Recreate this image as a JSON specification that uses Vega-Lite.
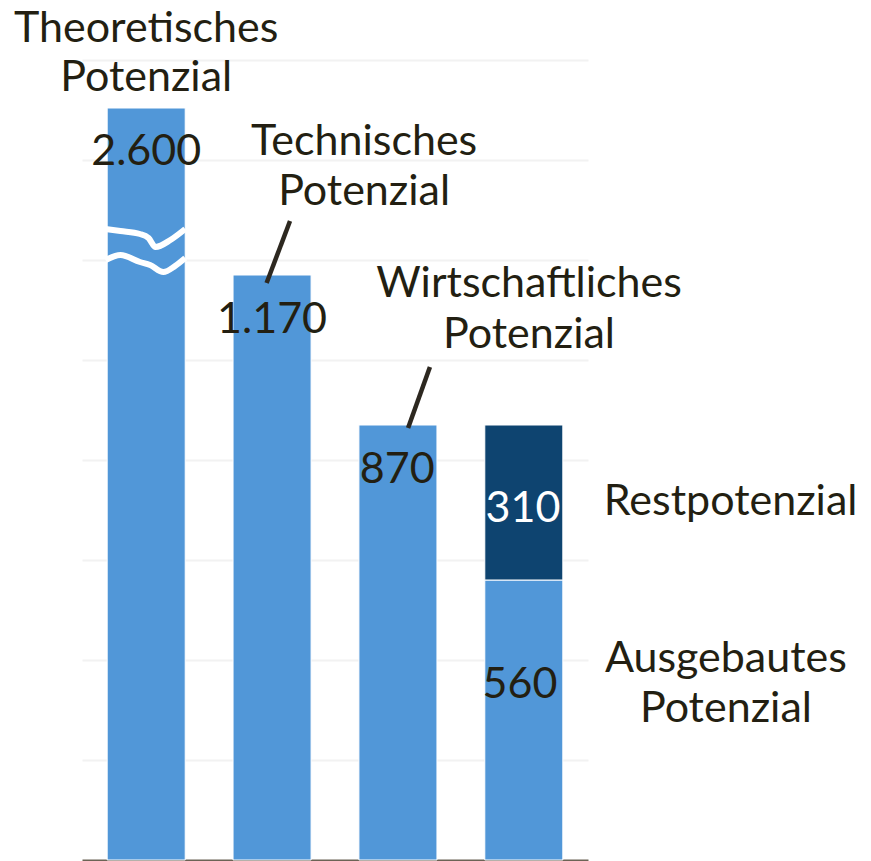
{
  "$schema": "https://vega.github.io/schema/vega-lite/v6.json",
  "width": 506,
  "height": 860,
  "autosize": {"type": "none"},
  "padding": {"left": 82, "top": 0, "right": 283, "bottom": 1},
  "background": "white",
  "config": {"view": {"stroke": null}, "font": "Lato"},
  "datasets": {
    "bars": [
      {"cat": "Theoretisches Potenzial", "part": "Potenzial", "value": 2600, "shown": 1504, "ord": 1},
      {"cat": "Technisches Potenzial", "part": "Potenzial", "value": 1170, "shown": 1170, "ord": 1},
      {"cat": "Wirtschaftliches Potenzial", "part": "Potenzial", "value": 870, "shown": 870, "ord": 1},
      {"cat": "Wirtschaftliches Potenzial (Aufteilung)", "part": "Ausgebautes Potenzial", "value": 560, "shown": 560, "ord": 1},
      {"cat": "Wirtschaftliches Potenzial (Aufteilung)", "part": "Restpotenzial", "value": 310, "shown": 310, "ord": 2}
    ],
    "breaks": [
      {"id": "b1", "cat": "Theoretisches Potenzial", "pos": -0.02, "y": 1262},
      {"id": "b1", "cat": "Theoretisches Potenzial", "pos": 0.17, "y": 1258},
      {"id": "b1", "cat": "Theoretisches Potenzial", "pos": 0.42, "y": 1252},
      {"id": "b1", "cat": "Theoretisches Potenzial", "pos": 0.53, "y": 1244},
      {"id": "b1", "cat": "Theoretisches Potenzial", "pos": 0.62, "y": 1226},
      {"id": "b1", "cat": "Theoretisches Potenzial", "pos": 0.81, "y": 1240},
      {"id": "b1", "cat": "Theoretisches Potenzial", "pos": 1.0, "y": 1262},
      {"id": "b2", "cat": "Theoretisches Potenzial", "pos": -0.02, "y": 1200},
      {"id": "b2", "cat": "Theoretisches Potenzial", "pos": 0.17, "y": 1210},
      {"id": "b2", "cat": "Theoretisches Potenzial", "pos": 0.42, "y": 1196},
      {"id": "b2", "cat": "Theoretisches Potenzial", "pos": 0.55, "y": 1190},
      {"id": "b2", "cat": "Theoretisches Potenzial", "pos": 0.72, "y": 1176},
      {"id": "b2", "cat": "Theoretisches Potenzial", "pos": 0.87, "y": 1188},
      {"id": "b2", "cat": "Theoretisches Potenzial", "pos": 1.0, "y": 1204}
    ],
    "callouts": [
      {"id": "c1", "cat": "Technisches Potenzial", "pos": 0.43, "y": 1154},
      {"id": "c1", "cat": "Technisches Potenzial", "pos": 0.73, "y": 1278},
      {"id": "c2", "cat": "Wirtschaftliches Potenzial", "pos": 0.63, "y": 864},
      {"id": "c2", "cat": "Wirtschaftliches Potenzial", "pos": 0.91, "y": 986}
    ],
    "texts": [
      {"cat": "Theoretisches Potenzial", "pos": 0.5, "y": 1636, "label": "Theoretisches", "ink": "dark"},
      {"cat": "Theoretisches Potenzial", "pos": 0.5, "y": 1538, "label": "Potenzial", "ink": "dark"},
      {"cat": "Theoretisches Potenzial", "pos": 0.5, "y": 1390, "label": "2.600", "ink": "dark"},
      {"cat": "Technisches Potenzial", "pos": 1.68, "y": 1410, "label": "Technisches", "ink": "dark"},
      {"cat": "Technisches Potenzial", "pos": 1.68, "y": 1310, "label": "Potenzial", "ink": "dark"},
      {"cat": "Technisches Potenzial", "pos": 0.5, "y": 1054, "label": "1.170", "ink": "dark"},
      {"cat": "Wirtschaftliches Potenzial", "pos": 2.18, "y": 1126, "label": "Wirtschaftliches", "ink": "dark"},
      {"cat": "Wirtschaftliches Potenzial", "pos": 2.18, "y": 1024, "label": "Potenzial", "ink": "dark"},
      {"cat": "Wirtschaftliches Potenzial", "pos": 0.49, "y": 754, "label": "870", "ink": "dark"},
      {"cat": "Wirtschaftliches Potenzial (Aufteilung)", "pos": 0.49, "y": 676, "label": "310", "ink": "light"},
      {"cat": "Wirtschaftliches Potenzial (Aufteilung)", "pos": 3.15, "y": 690, "label": "Restpotenzial", "ink": "dark"},
      {"cat": "Wirtschaftliches Potenzial (Aufteilung)", "pos": 0.45, "y": 324, "label": "560", "ink": "dark"},
      {"cat": "Wirtschaftliches Potenzial (Aufteilung)", "pos": 3.09, "y": 376, "label": "Ausgebautes", "ink": "dark"},
      {"cat": "Wirtschaftliches Potenzial (Aufteilung)", "pos": 3.09, "y": 276, "label": "Potenzial", "ink": "dark"}
    ]
  },
  "resolve": {"scale": {"xOffset": "independent"}},
  "layer": [
    {
      "data": {"name": "bars"},
      "mark": {"type": "bar", "stroke": "white", "strokeWidth": 1},
      "encoding": {
        "x": {
          "field": "cat",
          "type": "nominal",
          "sort": null,
          "scale": {"paddingInner": 0.38, "paddingOuter": 0.2},
          "axis": {"title": null, "labels": false, "ticks": false, "domain": true, "domainColor": "#6b6355", "domainWidth": 2, "grid": false}
        },
        "y": {
          "field": "shown",
          "type": "quantitative",
          "stack": "zero",
          "scale": {"domain": [0, 1720], "nice": false},
          "axis": {"title": null, "labels": false, "ticks": false, "domain": false, "grid": true, "gridColor": "#f2f2f2", "gridWidth": 2, "values": [200, 400, 600, 800, 1000, 1200, 1400, 1600]}
        },
        "order": {"field": "ord"},
        "color": {
          "field": "part",
          "type": "nominal",
          "scale": {"domain": ["Potenzial", "Ausgebautes Potenzial", "Restpotenzial"], "range": ["#5197d8", "#5197d8", "#0e4470"]},
          "legend": null
        }
      }
    },
    {
      "data": {"name": "breaks"},
      "mark": {"type": "line", "stroke": "white", "strokeWidth": 6, "interpolate": "monotone", "strokeCap": "butt"},
      "encoding": {
        "x": {"field": "cat", "type": "nominal", "sort": null, "bandPosition": 0},
        "xOffset": {"field": "pos", "type": "quantitative", "scale": {"domain": [0, 1], "nice": false, "zero": false}},
        "y": {"field": "y", "type": "quantitative"},
        "detail": {"field": "id"},
        "order": {"field": "pos"}
      }
    },
    {
      "data": {"name": "callouts"},
      "mark": {"type": "line", "stroke": "#2d2820", "strokeWidth": 4.5, "strokeCap": "butt"},
      "encoding": {
        "x": {"field": "cat", "type": "nominal", "sort": null, "bandPosition": 0},
        "xOffset": {"field": "pos", "type": "quantitative", "scale": {"domain": [0, 1], "nice": false, "zero": false}},
        "y": {"field": "y", "type": "quantitative"},
        "detail": {"field": "id"},
        "order": {"field": "pos"}
      }
    },
    {
      "data": {"name": "texts"},
      "mark": {"type": "text", "fontSize": 43, "baseline": "alphabetic", "align": "center"},
      "encoding": {
        "x": {"field": "cat", "type": "nominal", "sort": null, "bandPosition": 0},
        "xOffset": {"field": "pos", "type": "quantitative", "scale": {"domain": [0, 1], "nice": false, "zero": false}},
        "y": {"field": "y", "type": "quantitative"},
        "text": {"field": "label"},
        "fill": {
          "field": "ink",
          "type": "nominal",
          "scale": {"domain": ["dark", "light"], "range": ["#231f12", "#ffffff"]},
          "legend": null
        }
      }
    }
  ]
}
